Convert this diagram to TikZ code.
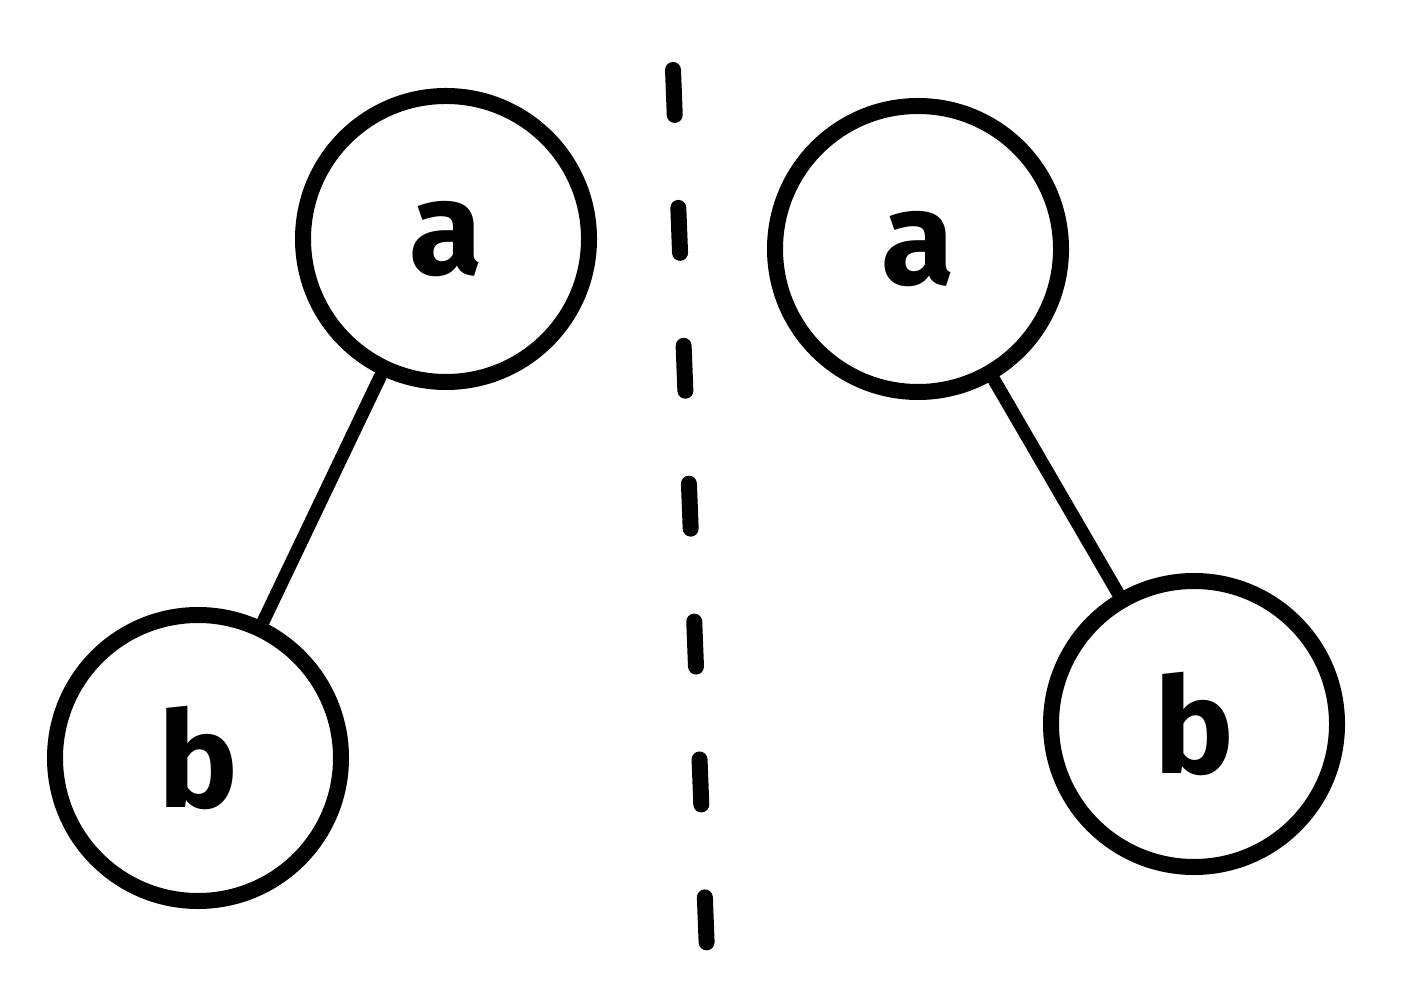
\documentclass[tikz,border=0pt]{standalone}
\usepackage{fontspec}
\setsansfont{Fira Sans}
\begin{document}
\begin{tikzpicture}[x=1cm, y=1cm,
    treenode/.style={draw, circle, line width=0.16cm, minimum size=2.86cm, inner sep=0pt, outer sep=0pt,
                     font=\sffamily\bfseries\fontsize{38}{46}\selectfont},
    edge/.style={line width=0.13cm},
    mirror/.style={line width=0.16cm, line cap=round, dash pattern=on 0.45cm off 0.93cm}]
    \useasboundingbox (0,0) rectangle (14.04,-10);
    % Left tree
    \node[treenode] (la) at (4.46,-2.39) {a};
    \node[treenode] (lb) at (1.98,-7.58) {b};
    \draw[edge] (la) -- (lb);
    % Right tree
    \node[treenode] (ra) at (9.18,-2.49) {a};
    \node[treenode] (rb) at (11.94,-7.24) {b};
    \draw[edge] (ra) -- (rb);
    % Dashed divider
    \coordinate (top) at (6.73,-0.70);
    \coordinate (bottom) at (7.07,-9.53);
    \draw[mirror] (top) -- (bottom);
\end{tikzpicture}
\end{document}
